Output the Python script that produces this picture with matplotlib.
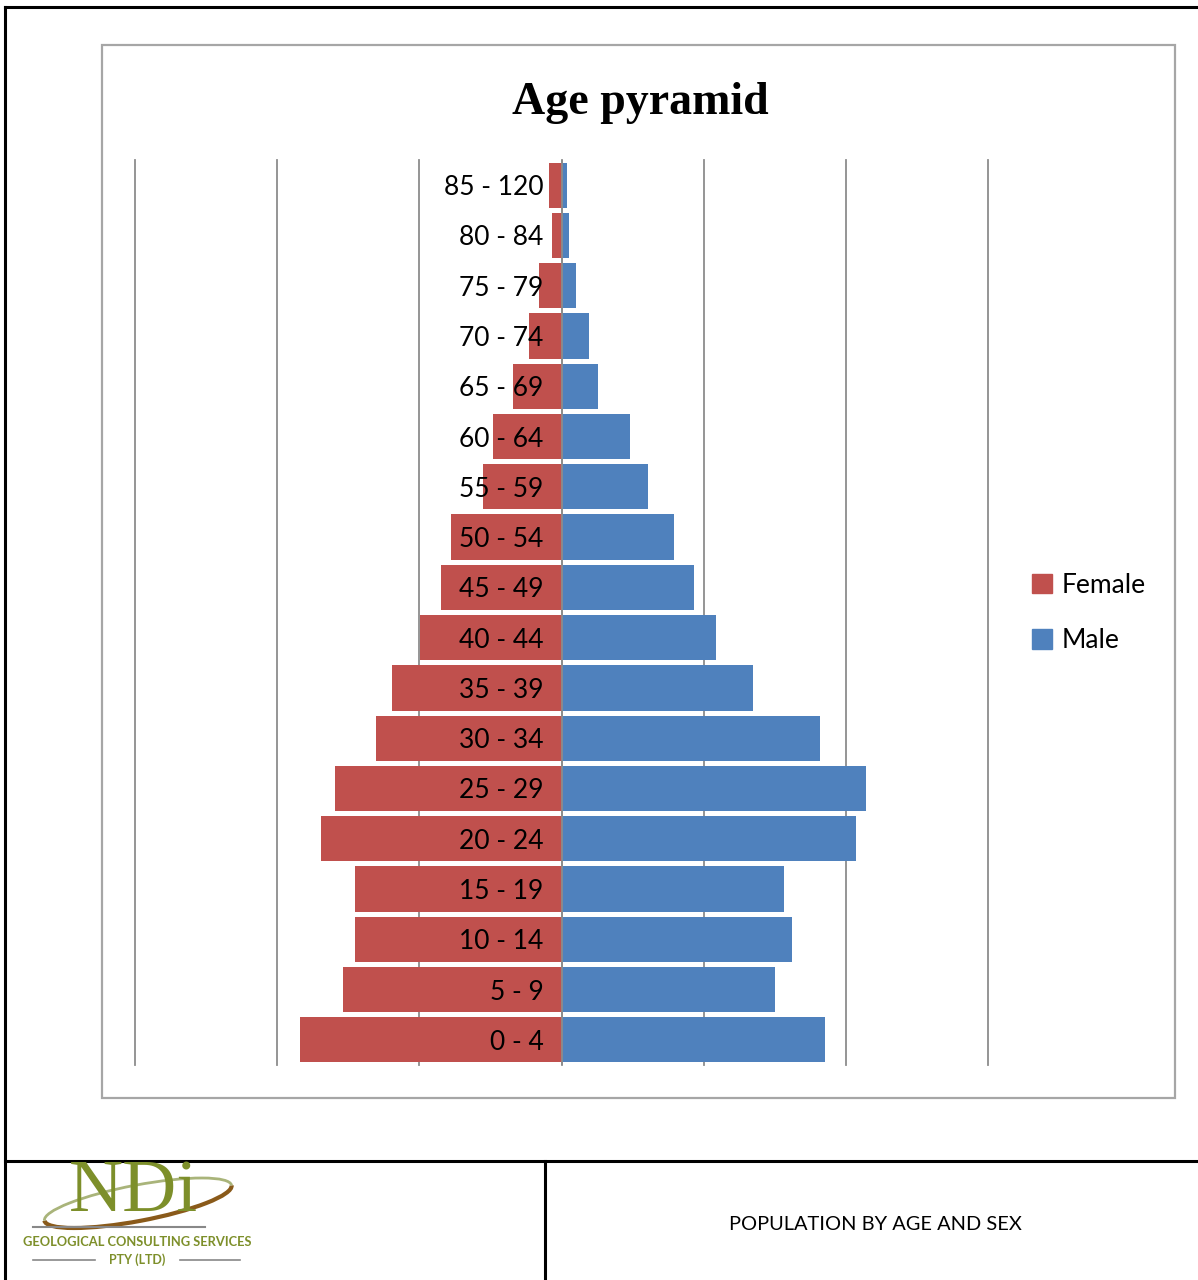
import matplotlib
matplotlib.use("Agg")
import matplotlib.pyplot as plt
from matplotlib.patches import Rectangle, Arc, Patch
from matplotlib.lines import Line2D

# Age groups (bottom to top) and share of population (%)
age_groups = ["0 - 4", "5 - 9", "10 - 14", "15 - 19", "20 - 24", "25 - 29",
              "30 - 34", "35 - 39", "40 - 44", "45 - 49", "50 - 54", "55 - 59",
              "60 - 64", "65 - 69", "70 - 74", "75 - 79", "80 - 84", "85 - 120"]
female = [3.68, 3.07, 2.90, 2.90, 3.38, 3.18, 2.61, 2.39, 1.99, 1.69, 1.56,
          1.11, 0.96, 0.68, 0.46, 0.32, 0.14, 0.18]
male = [3.70, 3.01, 3.24, 3.13, 4.14, 4.28, 3.63, 2.70, 2.17, 1.86, 1.58,
        1.21, 0.96, 0.52, 0.38, 0.21, 0.11, 0.08]
grid_ticks = [-6, -4, -2, 0, 2, 4, 6]

FEMALE_C = "#C0504D"
MALE_C = "#4F81BD"
W, H = 1198, 1280


def fx(px):
    return px / W


def fy(py):
    return 1 - py / H


fig = plt.figure(figsize=(W / 100, H / 100), dpi=100)

# chart area box
fig.add_artist(Rectangle((fx(102), fy(1098)), fx(1175) - fx(102), fy(45) - fy(1098),
                         transform=fig.transFigure, fill=False, ec="#a6a6a6", lw=1.6))

ax = fig.add_axes([fx(135), fy(1065), fx(988) - fx(135), fy(160) - fy(1065)])
ypos = list(range(len(age_groups)))
ax.barh(ypos, [-v for v in female], height=0.9, color=FEMALE_C, zorder=2)
ax.barh(ypos, male, height=0.9, color=MALE_C, zorder=2)
for t in grid_ticks:
    ax.axvline(t, color="#8c8c8c", lw=1.3, zorder=1, clip_on=False)
ax.axvline(0, color="#8c8c8c", lw=1.3, zorder=3)
for y, lab in zip(ypos, age_groups):
    ax.text(-0.25, y - 0.05, lab, ha="right", va="center", fontsize=19,
            family="Lato", color="black", zorder=4)
ax.set_xlim(-6, 6)
ax.set_ylim(-0.5, len(age_groups) - 0.5)
ax.set_xticks([])
ax.set_yticks([])
for s in ax.spines.values():
    s.set_visible(False)

fig.text(fx(640), fy(103), "Age pyramid", ha="center", va="center",
         family="Liberation Serif", weight="bold", fontsize=33)

handles = [Patch(color=FEMALE_C), Patch(color=MALE_C)]
fig.legend(handles, ["Female", "Male"], loc="center left",
           bbox_to_anchor=(fx(1008), fy(613)), frameon=False,
           prop={"family": "Lato", "size": 19}, handlelength=0.75,
           handleheight=0.75, handletextpad=0.4, labelspacing=1.15)

# page frame / table lines
blk = dict(color="black", lw=2.2, transform=fig.transFigure)
fig.add_artist(Line2D([fx(5), fx(1198)], [fy(7), fy(7)], **blk))
fig.add_artist(Line2D([fx(5), fx(5)], [fy(7), fy(1280)], **blk))
fig.add_artist(Line2D([fx(5), fx(1198)], [fy(1161), fy(1161)], **blk))
fig.add_artist(Line2D([fx(545), fx(545)], [fy(1161), fy(1280)], **blk))

fig.text(fx(875), fy(1225), "POPULATION BY AGE AND SEX", ha="center", va="center",
         family="Lato", fontsize=14.4)

# logo
olive = "#7d8f2a"
fig.add_artist(Arc((fx(138), fy(1203)), fx(190) - fx(0), fy(0) - fy(36), angle=10,
                   theta1=180, theta2=360, transform=fig.transFigure,
                   color="#8a5a1a", lw=3))
fig.add_artist(Arc((fx(138), fy(1203)), fx(190) - fx(0), fy(0) - fy(36), angle=10,
                   theta1=0, theta2=180, transform=fig.transFigure,
                   color="#a9b47a", lw=2))
fig.text(fx(133), fy(1193), "NDi", ha="center", va="center", family="Liberation Serif",
         fontsize=54, color=olive)
fig.add_artist(Line2D([fx(33), fx(205)], [fy(1227), fy(1227)], color="#888888", lw=1.5,
                      transform=fig.transFigure))
fig.text(fx(137), fy(1242), "GEOLOGICAL CONSULTING SERVICES", ha="center", va="center",
         family="Lato", weight="bold", fontsize=9.3, color=olive)
fig.text(fx(137), fy(1260), "PTY (LTD)", ha="center", va="center",
         family="Lato", weight="bold", fontsize=9, color=olive)
for x0, x1 in [(33, 95), (180, 240)]:
    fig.add_artist(Line2D([fx(x0), fx(x1)], [fy(1260), fy(1260)], color="#888888", lw=1.2,
                          transform=fig.transFigure))

fig.savefig("out.png", dpi=100)
